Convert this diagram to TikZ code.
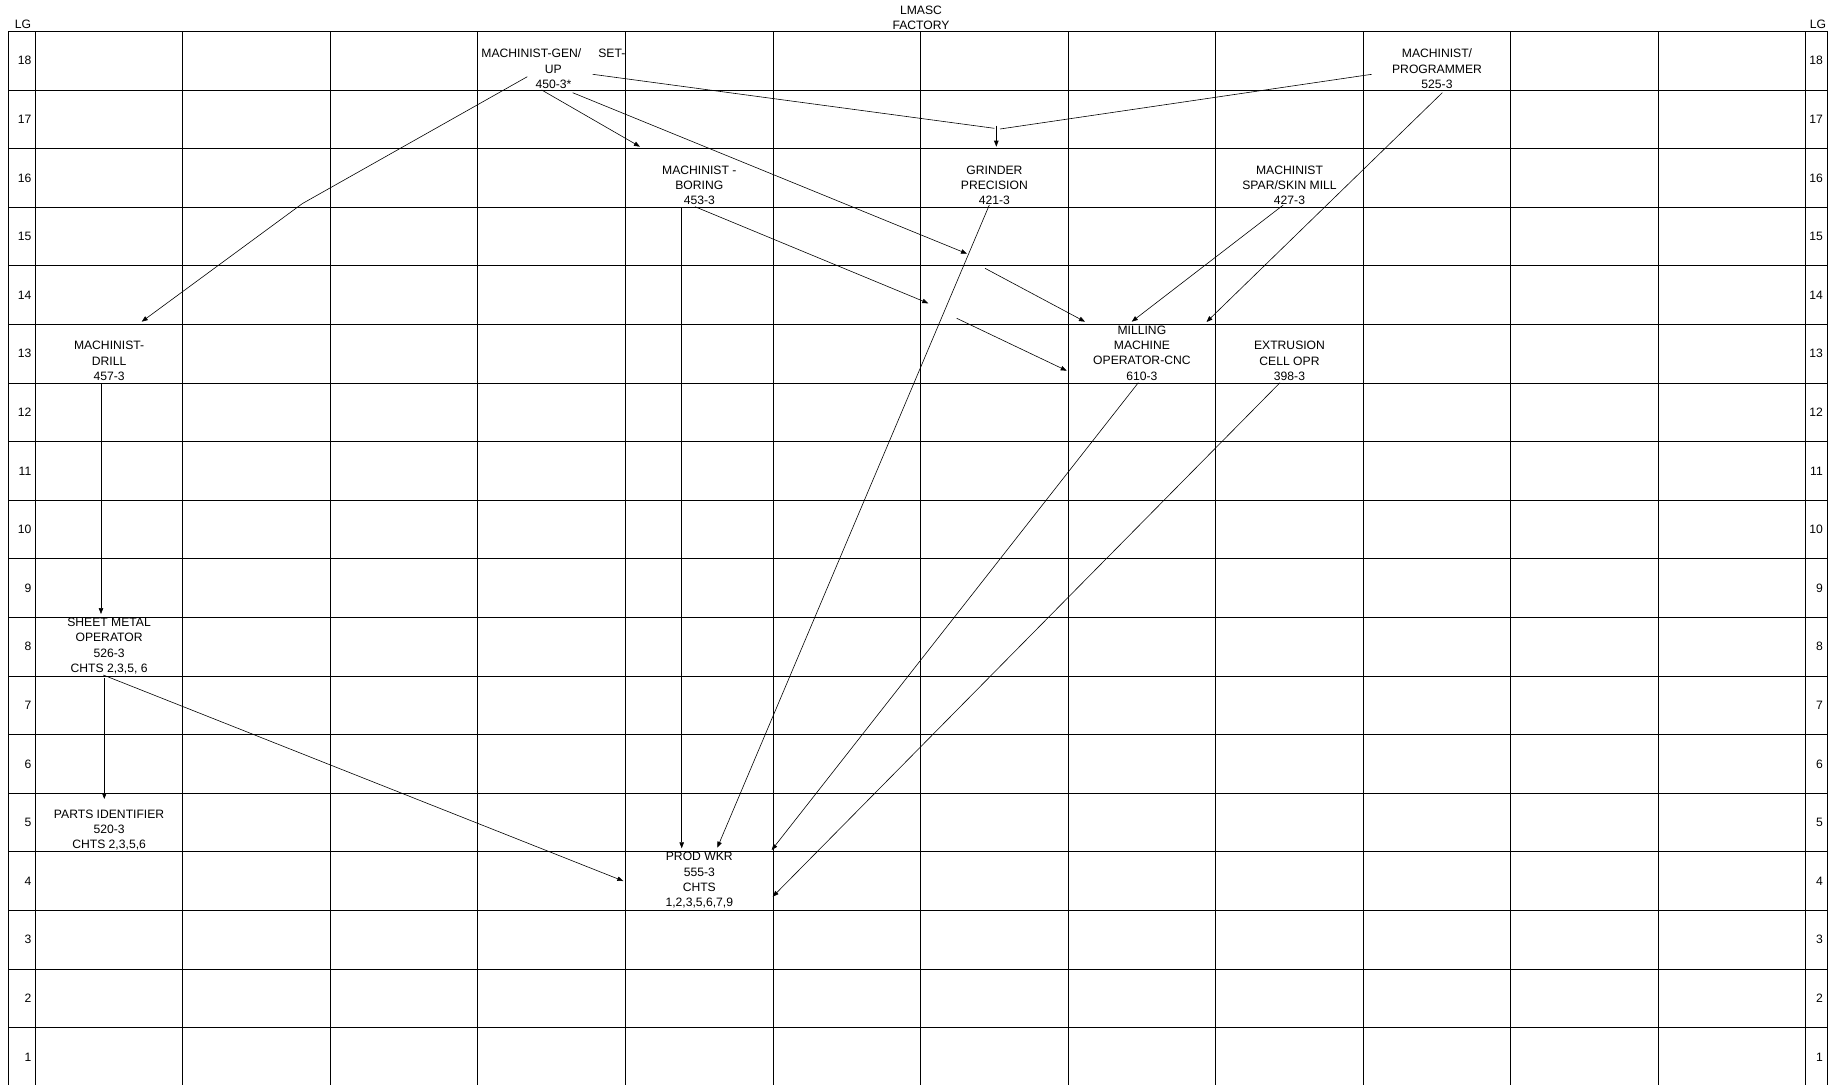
\documentclass[tikz,border=0pt]{standalone}
\usepackage{fontspec}
\setmainfont{Liberation Sans}
\usetikzlibrary{arrows.meta}

\begin{document}
\begin{tikzpicture}[x=1pt, y=-1pt,
    cell/.style={line width=1pt},
    lg/.style={inner sep=0pt, font=\fontsize{12.15}{15.3}\selectfont},
    job/.style={align=center, inner sep=0pt, anchor=north, font=\fontsize{12.15}{15.3}\selectfont},
    feed/.style={line width=0.6pt},
    flow/.style={line width=0.6pt, -{Triangle[length=6pt, width=4.5pt]}}]
    \useasboundingbox (0,0) rectangle (1839,1085);

    % the grid of levels and columns
    \foreach \k in {0,...,17}
        \draw[cell] (8.7, {31.4+58.6*\k}) -- (1827, {31.4+58.6*\k});
    \foreach \k in {0,...,12}
        \draw[cell] ({35.3+147.55*\k}, 31.4) -- ({35.3+147.55*\k}, 1085);
    \draw[cell] (8.7, 31.4) -- (8.7, 1085);
    \draw[cell] (1827, 31.4) -- (1827, 1085);

    % level numbers
    \foreach \r in {1,...,18} {
        \node[lg, anchor=east] (lv-l-\r) at (31.5, {31.4+58.6*(18-\r)+29.3}) {\r};
        \node[lg, anchor=east] (lv-r-\r) at (1823, {31.4+58.6*(18-\r)+29.3}) {\r};
    }
    \node[lg] (lg-l) at (23, 24.3) {LG};
    \node[lg] (lg-r) at (1818, 24.3) {LG};
    \node[job] (title) at (921, 5.6) {LMASC\\FACTORY};

    % jobs
    \node[job] (gen) at (553.4, 48.9) {MACHINIST-GEN/\hspace{17pt}SET-\\UP\\450-3*};
    \node[job] (prog) at (1437, 48.9) {MACHINIST/\\PROGRAMMER\\525-3};
    \node[job] (boring) at (699.3, 165.6) {MACHINIST -\\BORING\\453-3};
    \node[job] (grinder) at (994.4, 165.6) {GRINDER\\PRECISION\\421-3};
    \node[job] (spar) at (1289.5, 165.6) {MACHINIST\\SPAR/SKIN MILL\\427-3};
    \node[job] (drill) at (109.1, 341.3) {MACHINIST-\\DRILL\\457-3};
    \node[job] (milling) at (1141.9, 325.6) {MILLING\\MACHINE\\OPERATOR-CNC\\610-3};
    \node[job] (extr) at (1289.5, 341.3) {EXTRUSION\\CELL OPR\\398-3};
    \node[job] (sheet) at (109.1, 617.9) {SHEET METAL\\OPERATOR\\526-3\\CHTS 2,3,5, 6};
    \node[job] (parts) at (109.1, 809.6) {PARTS IDENTIFIER\\520-3\\CHTS 2,3,5,6};
    \node[job] (prod) at (699.3, 852.3) {PROD WKR\\555-3\\CHTS\\1,2,3,5,6,7,9};

    % connector ends
    \coordinate (gen-1) at (527.3, 76.7);
    \coordinate (gen-2) at (592.7, 74.3);
    \coordinate (gen-3) at (541.7, 90);
    \coordinate (gen-4) at (572.7, 92.7);
    \coordinate (drill-bend) at (302.5, 203.5);
    \coordinate (drill-in) at (141.7, 321.7);
    \coordinate (join-l) at (994.3, 128.3);
    \coordinate (join-r) at (1000, 129);
    \coordinate (join-top) at (996.3, 125.7);
    \coordinate (grinder-in) at (996.3, 146.7);
    \coordinate (prog-1) at (1371.7, 74.3);
    \coordinate (prog-2) at (1442.3, 92.7);
    \coordinate (boring-in) at (640, 146.7);
    \coordinate (gap-1) at (967, 253.7);
    \coordinate (gap-2) at (985, 268.3);
    \coordinate (milling-in-1) at (1085, 321.7);
    \coordinate (boring-1) at (695, 206.7);
    \coordinate (boring-2) at (681.7, 207.5);
    \coordinate (gap-3) at (928.3, 303.3);
    \coordinate (gap-4) at (956.7, 318.3);
    \coordinate (milling-in-2) at (1066.7, 370.7);
    \coordinate (grinder-out) at (989.3, 205);
    \coordinate (spar-out) at (1283.3, 205);
    \coordinate (milling-in-3) at (1131.7, 321.7);
    \coordinate (milling-in-4) at (1206.5, 322);
    \coordinate (milling-out) at (1138.3, 382.7);
    \coordinate (extr-out) at (1280, 382.7);
    \coordinate (drill-out) at (101, 383.3);
    \coordinate (sheet-in) at (101, 614);
    \coordinate (sheet-1) at (104.3, 678.3);
    \coordinate (sheet-2) at (103.3, 675);
    \coordinate (parts-in) at (104.3, 799);
    \coordinate (prod-in-1) at (681.7, 848.3);
    \coordinate (prod-in-2) at (717.3, 847.7);
    \coordinate (prod-in-3) at (771.7, 850);
    \coordinate (prod-in-4) at (772.7, 896.7);
    \coordinate (prod-in-5) at (623.3, 881);

    % connectors
    \draw[flow] (gen-1) -- (drill-bend) -- (drill-in);
    \draw[feed] (gen-2) -- (join-l);
    \draw[feed] (prog-1) -- (join-r);
    \draw[flow] (join-top) -- (grinder-in);
    \draw[flow] (gen-3) -- (boring-in);
    \draw[flow] (gen-4) -- (gap-1);
    \draw[flow] (gap-2) -- (milling-in-1);
    \draw[flow] (boring-1) -- (gap-3);
    \draw[flow] (gap-4) -- (milling-in-2);
    \draw[flow] (boring-2) -- (prod-in-1);
    \draw[flow] (grinder-out) -- (prod-in-2);
    \draw[flow] (spar-out) -- (milling-in-3);
    \draw[flow] (prog-2) -- (milling-in-4);
    \draw[flow] (milling-out) -- (prod-in-3);
    \draw[flow] (extr-out) -- (prod-in-4);
    \draw[flow] (drill-out) -- (sheet-in);
    \draw[flow] (sheet-1) -- (parts-in);
    \draw[flow] (sheet-2) -- (prod-in-5);
\end{tikzpicture}
\end{document}
